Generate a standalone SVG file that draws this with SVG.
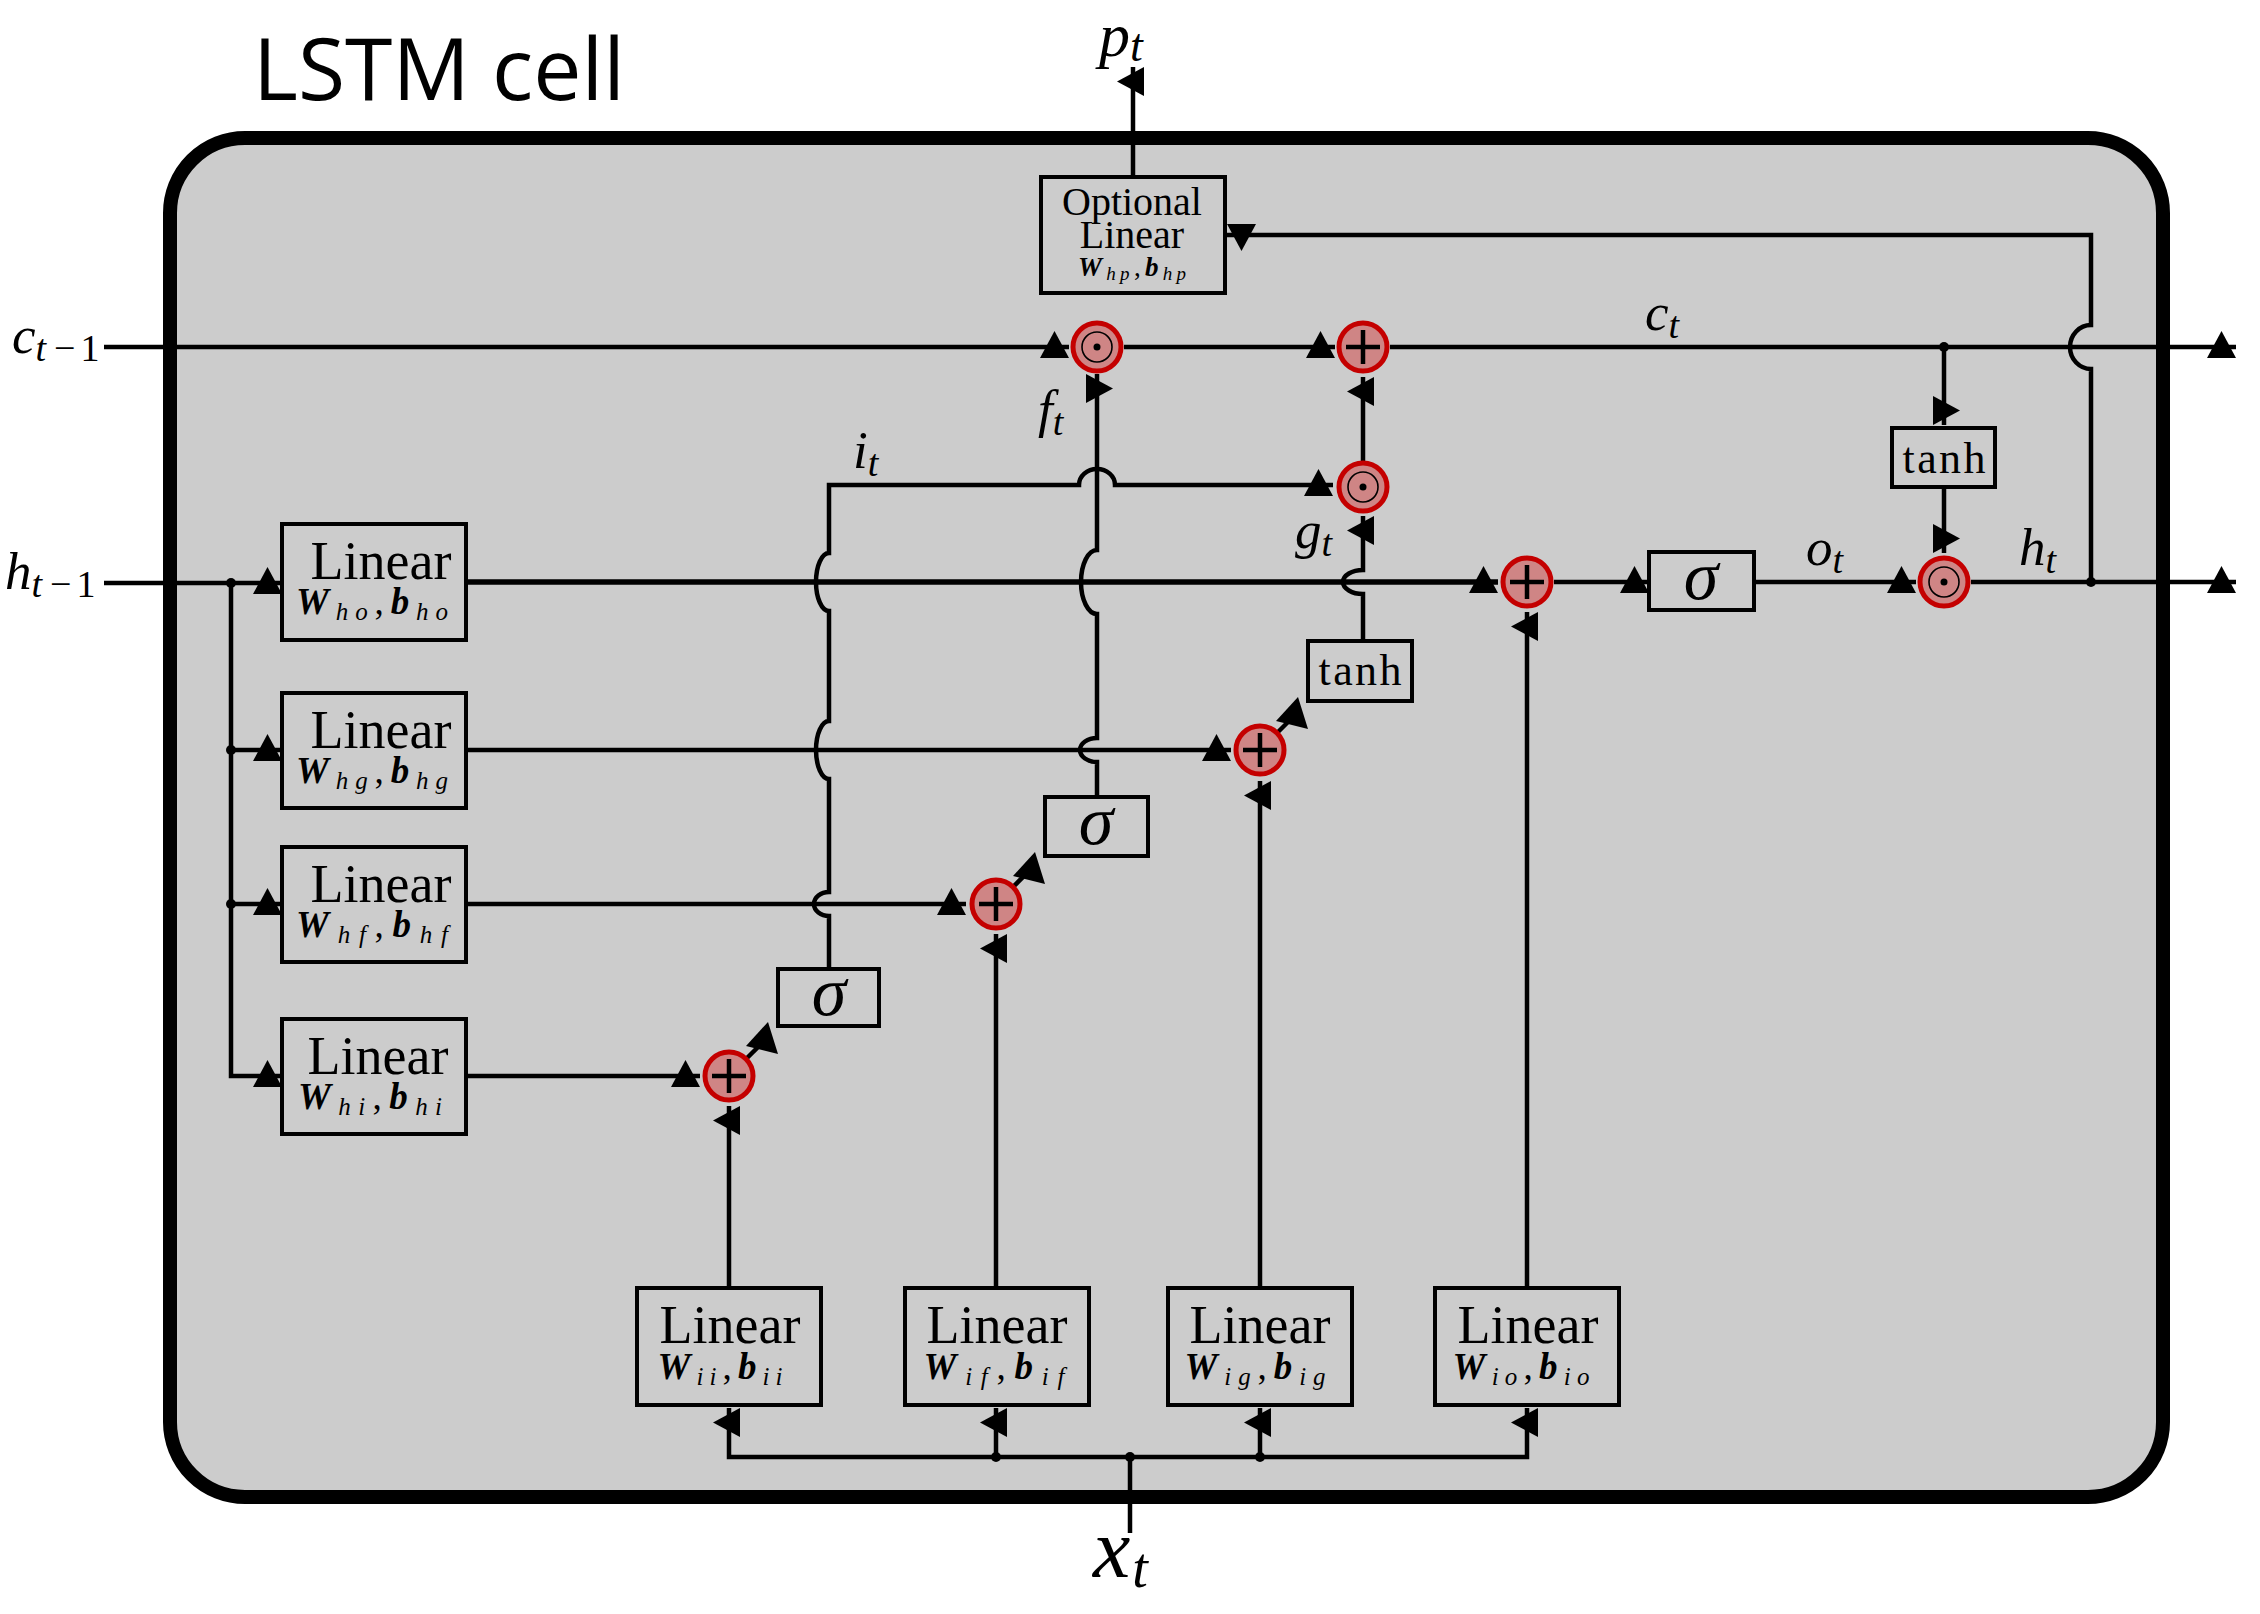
<svg xmlns="http://www.w3.org/2000/svg" width="2260" height="1614" viewBox="0 0 2260 1614">
<style>
.frame{fill:#cccccc;stroke:#000;stroke-width:14}
.box{fill:#cccccc;stroke:#000;stroke-width:4}
.ln{fill:none;stroke:#000;stroke-width:4.5}
.thick{stroke-width:5.5}
.arr{marker-end:url(#aA)}
.arrB{marker-end:url(#aB)}
.opc{fill:#cf8585;stroke:#c40000;stroke-width:5}
.dot{fill:#000}
.rm{font-family:"Liberation Serif","Times New Roman",serif;fill:#000}
.it{font-family:"Liberation Serif","Times New Roman",serif;font-style:italic;fill:#000}
.up{font-style:normal}
.wl{font-family:"Liberation Serif","Times New Roman",serif;font-size:37px;fill:#000}
.bi{font-weight:bold;font-style:italic}
.sb{font-style:italic;font-size:25px;font-weight:normal}
.wls{font-size:27px}
.sbs{font-size:19px}
.lin{font-size:54px}
.lab{font-size:53px}
.lsub{font-size:38px}
.title{font-family:"Open Sans","Noto Sans",sans-serif;font-size:86px;fill:#000}
</style>
<defs>
<marker id="aA" markerUnits="userSpaceOnUse" viewBox="-32 -18 34 32" markerWidth="34" markerHeight="32" refX="0" refY="0" orient="auto" overflow="visible"><path d="M-29,11 L-14.5,-16 L0,11 Z" fill="#000"/></marker>
<marker id="aB" markerUnits="userSpaceOnUse" viewBox="-32 -14 34 32" markerWidth="34" markerHeight="32" refX="0" refY="0" orient="auto" overflow="visible"><path d="M-29,-11 L-14.5,16 L0,-11 Z" fill="#000"/></marker>
</defs>

<rect class="frame" x="170" y="138" width="1993" height="1359" rx="75" ry="75"/>
<text class="title" x="253" y="100">LSTM cell</text>

<g id="connectors">
<path class="ln arr" d="M104 347 H1069"/>
<path class="ln arr" d="M1124 347 H1335"/>
<path class="ln arr" d="M1390 347 H2236"/>
<path class="ln arr" d="M1944 347 V425"/>
<path class="ln arr" d="M1944 487 V553"/>
<path class="ln arr" d="M104 583 H282"/>
<path class="ln arr" d="M231 583 V1076 H282"/>
<path class="ln arr" d="M231 750 H282"/>
<path class="ln arr" d="M231 904 H282"/>
<path class="ln thick arr" d="M466 582 H1498"/>
<path class="ln arr" d="M466 750 H1231"/>
<path class="ln arr" d="M466 904 H966"/>
<path class="ln arr" d="M466 1076 H700"/>
<path class="ln arr" d="M829 969 V916 A15 12 0 0 1 829 892 V779 A13 29 0 0 1 829 721 V611 A13 29 0 0 1 829 553 V485 H1079 A18 16 0 0 1 1115 485 H1333"/>
<path class="ln arrB" d="M1097 797 V762 A17 12 0 0 1 1097 738 V614 A16 32 0 0 1 1097 550 V374"/>
<path class="ln arr" d="M1363 641 V594 A20 12 0 0 1 1363 570 V516"/>
<path class="ln arr" d="M1363 461 V377"/>
<path class="ln arr" d="M1527 1288 V612"/>
<path class="ln arr" d="M1260 1288 V781"/>
<path class="ln arr" d="M996 1288 V934"/>
<path class="ln arr" d="M729 1288 V1106"/>
<path class="ln" d="M745 1060 L765 1040"/>
<path class="ln" d="M1012 888 L1032 868"/>
<path class="ln" d="M1276 734 L1296 714"/>
<polygon points="746,1046 768,1022 778,1054" fill="#000"/>
<polygon points="1013,876 1035,852 1045,884" fill="#000"/>
<polygon points="1276,721 1298,697 1308,729" fill="#000"/>
<path class="ln arr" d="M1554 582 H1649"/>
<path class="ln arr" d="M1754 582 H1916"/>
<path class="ln arr" d="M1971 582 H2236"/>
<path class="ln arr" d="M2091 582 V369 A21 22 0 0 1 2091 325 V235 H1227"/>
<path class="ln arr" d="M1133 177 V67"/>
<path class="ln arr" d="M1130 1457 H729 V1408"/>
<path class="ln arr" d="M1130 1457 H1527 V1408"/>
<path class="ln arr" d="M996 1457 V1408"/>
<path class="ln arr" d="M1260 1457 V1408"/>
<path class="ln" d="M1130 1533 V1457"/>
<circle class="dot" cx="231" cy="583" r="5"/>
<circle class="dot" cx="231" cy="750" r="5"/>
<circle class="dot" cx="231" cy="904" r="5"/>
<circle class="dot" cx="1944" cy="347" r="5"/>
<circle class="dot" cx="2091" cy="582" r="5"/>
<circle class="dot" cx="996" cy="1457" r="5"/>
<circle class="dot" cx="1260" cy="1457" r="5"/>
<circle class="dot" cx="1130" cy="1457" r="5"/>
</g>

<g id="mul-forget"><circle class="opc" cx="1097" cy="347" r="24"/><circle cx="1097" cy="347" r="15" fill="none" stroke="#000" stroke-width="1.6"/><circle cx="1097" cy="347" r="3.5"/></g>
<g id="add-cell"><circle class="opc" cx="1363" cy="347" r="24"/><path class="ln" d="M1346 347 H1380 M1363 330 V364"/></g>
<g id="mul-input"><circle class="opc" cx="1363" cy="487" r="24"/><circle cx="1363" cy="487" r="15" fill="none" stroke="#000" stroke-width="1.6"/><circle cx="1363" cy="487" r="3.5"/></g>
<g id="add-o"><circle class="opc" cx="1527" cy="582" r="24"/><path class="ln" d="M1510 582 H1544 M1527 565 V599"/></g>
<g id="mul-out"><circle class="opc" cx="1944" cy="582" r="24"/><circle cx="1944" cy="582" r="15" fill="none" stroke="#000" stroke-width="1.6"/><circle cx="1944" cy="582" r="3.5"/></g>
<g id="add-g"><circle class="opc" cx="1260" cy="750" r="24"/><path class="ln" d="M1243 750 H1277 M1260 733 V767"/></g>
<g id="add-f"><circle class="opc" cx="996" cy="904" r="24"/><path class="ln" d="M979 904 H1013 M996 887 V921"/></g>
<g id="add-i"><circle class="opc" cx="729" cy="1076" r="24"/><path class="ln" d="M712 1076 H746 M729 1059 V1093"/></g>

<g id="optional-linear"><rect class="box" x="1041" y="177" width="184" height="116"/>
<text class="rm" x="1132" y="215" font-size="40" text-anchor="middle">Optional</text>
<text class="rm" x="1132" y="248" font-size="40" text-anchor="middle">Linear</text>
<text class="wl wls" x="1132" y="276" text-anchor="middle" textLength="108" lengthAdjust="spacing"><tspan class="bi">W</tspan><tspan class="sb sbs" dy="4">hp</tspan><tspan dy="-4">,</tspan><tspan class="bi">b</tspan><tspan class="sb sbs" dy="4">hp</tspan></text></g>

<g id="linear-ho"><rect class="box" x="282" y="524" width="184" height="116"/>
<text class="rm lin" x="381" y="579" text-anchor="middle">Linear</text>
<text class="wl" x="372" y="614" text-anchor="middle" textLength="152" lengthAdjust="spacing"><tspan class="bi">W</tspan><tspan class="sb" dy="6">ho</tspan><tspan dy="-6">,</tspan><tspan class="bi">b</tspan><tspan class="sb" dy="6">ho</tspan></text></g>
<g id="linear-hg"><rect class="box" x="282" y="693" width="184" height="115"/>
<text class="rm lin" x="381" y="748" text-anchor="middle">Linear</text>
<text class="wl" x="372" y="783" text-anchor="middle" textLength="152" lengthAdjust="spacing"><tspan class="bi">W</tspan><tspan class="sb" dy="6">hg</tspan><tspan dy="-6">,</tspan><tspan class="bi">b</tspan><tspan class="sb" dy="6">hg</tspan></text></g>
<g id="linear-hf"><rect class="box" x="282" y="847" width="184" height="115"/>
<text class="rm lin" x="381" y="902" text-anchor="middle">Linear</text>
<text class="wl" x="372" y="937" text-anchor="middle" textLength="152" lengthAdjust="spacing"><tspan class="bi">W</tspan><tspan class="sb" dy="6">hf</tspan><tspan dy="-6">,</tspan><tspan class="bi">b</tspan><tspan class="sb" dy="6">hf</tspan></text></g>
<g id="linear-hi"><rect class="box" x="282" y="1019" width="184" height="115"/>
<text class="rm lin" x="378" y="1074" text-anchor="middle">Linear</text>
<text class="wl" x="370" y="1109" text-anchor="middle" textLength="144" lengthAdjust="spacing"><tspan class="bi">W</tspan><tspan class="sb" dy="6">hi</tspan><tspan dy="-6">,</tspan><tspan class="bi">b</tspan><tspan class="sb" dy="6">hi</tspan></text></g>

<g id="linear-ii"><rect class="box" x="637" y="1288" width="184" height="117"/>
<text class="rm lin" x="730" y="1343" text-anchor="middle">Linear</text>
<text class="wl" x="720" y="1379" text-anchor="middle" textLength="125" lengthAdjust="spacing"><tspan class="bi">W</tspan><tspan class="sb" dy="6">ii</tspan><tspan dy="-6">,</tspan><tspan class="bi">b</tspan><tspan class="sb" dy="6">ii</tspan></text></g>
<g id="linear-if"><rect class="box" x="905" y="1288" width="184" height="117"/>
<text class="rm lin" x="997" y="1343" text-anchor="middle">Linear</text>
<text class="wl" x="994" y="1379" text-anchor="middle" textLength="141" lengthAdjust="spacing"><tspan class="bi">W</tspan><tspan class="sb" dy="6">if</tspan><tspan dy="-6">,</tspan><tspan class="bi">b</tspan><tspan class="sb" dy="6">if</tspan></text></g>
<g id="linear-ig"><rect class="box" x="1168" y="1288" width="184" height="117"/>
<text class="rm lin" x="1260" y="1343" text-anchor="middle">Linear</text>
<text class="wl" x="1255" y="1379" text-anchor="middle" textLength="141" lengthAdjust="spacing"><tspan class="bi">W</tspan><tspan class="sb" dy="6">ig</tspan><tspan dy="-6">,</tspan><tspan class="bi">b</tspan><tspan class="sb" dy="6">ig</tspan></text></g>
<g id="linear-io"><rect class="box" x="1435" y="1288" width="184" height="117"/>
<text class="rm lin" x="1528" y="1343" text-anchor="middle">Linear</text>
<text class="wl" x="1521" y="1379" text-anchor="middle" textLength="137" lengthAdjust="spacing"><tspan class="bi">W</tspan><tspan class="sb" dy="6">io</tspan><tspan dy="-6">,</tspan><tspan class="bi">b</tspan><tspan class="sb" dy="6">io</tspan></text></g>

<g id="sigma-i"><rect class="box" x="778" y="969" width="101" height="57"/><text class="it" x="829" y="1015" font-size="70" text-anchor="middle">σ</text></g>
<g id="sigma-f"><rect class="box" x="1045" y="797" width="103" height="59"/><text class="it" x="1096" y="844" font-size="70" text-anchor="middle">σ</text></g>
<g id="sigma-o"><rect class="box" x="1649" y="552" width="105" height="58"/><text class="it" x="1701" y="599" font-size="70" text-anchor="middle">σ</text></g>
<g id="tanh-g"><rect class="box" x="1308" y="641" width="104" height="60"/><text class="rm" x="1360" y="685" font-size="44" text-anchor="middle" textLength="83" lengthAdjust="spacing">tanh</text></g>
<g id="tanh-c"><rect class="box" x="1892" y="428" width="103" height="59"/><text class="rm" x="1944" y="473" font-size="44" text-anchor="middle" textLength="83" lengthAdjust="spacing">tanh</text></g>

<g id="labels">
<text class="it" x="1099" y="56" font-size="62">p<tspan font-size="46" dy="5">t</tspan></text>
<text class="it" x="1093" y="1577" font-size="84">x<tspan font-size="56" dx="2" dy="10">t</tspan></text>
<text class="it lab" x="12" y="353">c<tspan class="lsub" dy="8">t<tspan class="up" dx="8">−</tspan><tspan class="up" dx="5">1</tspan></tspan></text>
<text class="it lab" x="5" y="589">h<tspan class="lsub" dy="8">t<tspan class="up" dx="8">−</tspan><tspan class="up" dx="5">1</tspan></tspan></text>
<text class="it lab" x="1645" y="330">c<tspan class="lsub" dy="8">t</tspan></text>
<text class="it lab" x="2019" y="565">h<tspan class="lsub" dy="8">t</tspan></text>
<text class="it lab" x="1806" y="565">o<tspan class="lsub" dy="8">t</tspan></text>
<text class="it lab" x="853" y="468">i<tspan class="lsub" dy="8">t</tspan></text>
<text class="it lab" x="1038" y="427">f<tspan class="lsub" dy="8">t</tspan></text>
<text class="it lab" x="1295" y="548">g<tspan class="lsub" dy="8">t</tspan></text>
</g>
</svg>
